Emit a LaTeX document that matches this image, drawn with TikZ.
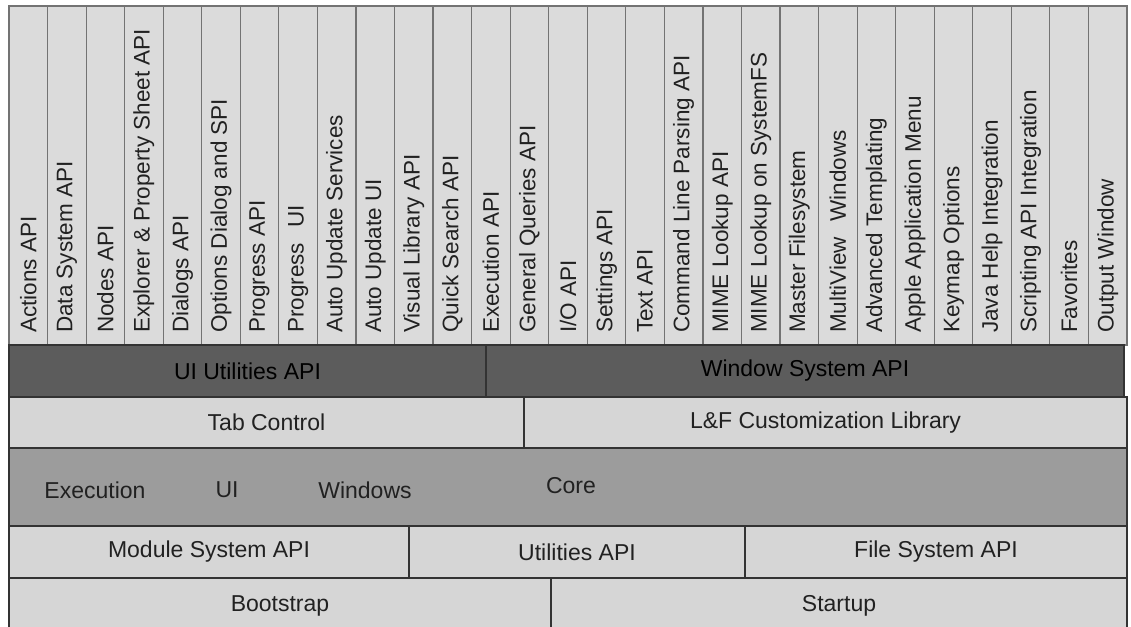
\documentclass[tikz,border=0pt]{standalone}
\usepackage{fontspec}
\setmainfont{Liberation Sans}
\definecolor{colfill}{gray}{0.86}
\definecolor{colline}{gray}{0.45}
\definecolor{lightfill}{gray}{0.84}
\definecolor{darkfill}{rgb}{0.36,0.36,0.36}
\definecolor{corefill}{gray}{0.61}
\definecolor{txt}{gray}{0.13}
\definecolor{edge}{gray}{0.2}
\begin{document}
\begin{tikzpicture}[x=1pt,y=-1pt,
  colbox/.style={draw=colline, fill=colfill, line width=1.2pt, minimum width=38.55pt, minimum height=339pt, inner sep=0pt, outer sep=0pt},
  coltext/.style={rotate=90, anchor=west, font=\fontsize{22.5}{24}\selectfont, text=txt, inner sep=0pt},
  layer/.style={draw=edge, line width=1.3pt, inner sep=0pt, outer sep=0pt, font=\fontsize{23}{26}\selectfont, text=txt},
  lightlayer/.style={layer, fill=lightfill},
  darklayer/.style={draw=edge, line width=1.3pt, inner sep=0pt, outer sep=0pt, fill=darkfill},
  darklabel/.style={font=\fontsize{23}{26}\selectfont, inner sep=0pt, text=black},
  corelayer/.style={layer, fill=corefill},
  coretext/.style={font=\fontsize{23}{26}\selectfont, text=txt, inner sep=0pt}
]
\useasboundingbox (0,0) rectangle (1131,626);
% columns
\foreach \t [count=\i from 0] in {{Actions API},{Data System API},{Nodes API},{Explorer \& Property Sheet API},{Dialogs API},{Options Dialog and SPI},{Progress API},{Progress\hspace{0.4em} UI},{Auto Update Services},{Auto Update UI},{Visual Library API},{Quick Search API},{Execution API},{General Queries API},{I/O API},{Settings API},{Text API},{Command Line Parsing API},{MIME Lookup API},{MIME Lookup on SystemFS},{Master Filesystem},{MultiView\hspace{0.4em} Windows},{Advanced Templating},{Apple Application Menu},{Keymap Options},{Java Help Integration},{Scripting API Integration},{Favorites},{Output Window}}{
  \node[colbox] (c\i) at ({9+38.55*(\i+0.5)},175.5) {};
  \node[coltext] (t\i) at ([yshift=12pt]c\i.south) {\t};
}
% layers
\node[darklayer, minimum width=477pt, minimum height=52pt] (uiu) at (247.5,371) {};
\node[darklabel] (uiut) at (uiu.center) {UI Utilities API};
\node[darklayer, minimum width=638pt, minimum height=52pt] (wsa) at (805,371) {};
\node[darklabel] (wsat) at (wsa.center) {Window System API};
\node[lightlayer, minimum width=515pt, minimum height=51pt] (tab) at (266.5,422.5) {Tab Control};
\node[lightlayer, minimum width=603pt, minimum height=51pt] (laf) at (825.5,422.5) {L\&F Customization Library};
\node[corelayer, minimum width=1118pt, minimum height=78pt] (core) at (568,487) {};
\node[coretext] (cexec) at (95,490) {Execution};
\node[coretext] (cui) at (227,490) {UI};
\node[coretext] (cwin) at (365,490) {Windows};
\node[coretext] (ccore) at (571,486) {Core};
\node[lightlayer, minimum width=400pt, minimum height=52pt] (msa) at (209,552) {Module System API};
\node[lightlayer, minimum width=336pt, minimum height=52pt] (uta) at (577,552) {Utilities API};
\node[lightlayer, minimum width=382pt, minimum height=52pt] (fsa) at (936,552) {File System API};
\node[lightlayer, minimum width=542pt, minimum height=56pt] (boot) at (280,606) {Bootstrap};
\node[lightlayer, minimum width=576pt, minimum height=56pt] (start) at (839,606) {Startup};
\end{tikzpicture}
\end{document}
